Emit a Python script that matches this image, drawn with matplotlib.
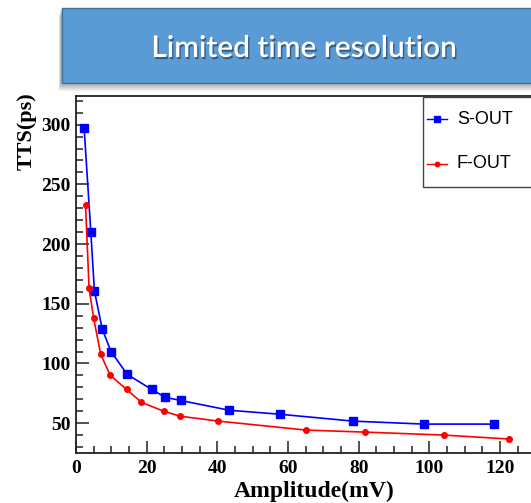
import matplotlib
matplotlib.use("Agg")
import matplotlib.pyplot as plt
from matplotlib.patches import Rectangle
from matplotlib.lines import Line2D
from matplotlib.ticker import MultipleLocator
import matplotlib.patheffects as pe

# ---- data ----
s_out_x = [2.3, 4.2, 5.2, 7.4, 9.9, 14.5, 21.4, 25.2, 29.6, 43.4, 57.6, 78.4, 98.5, 118.4]
s_out_y = [297, 210, 161, 129, 110, 90.8, 78.3, 71.7, 69, 60.8, 57.5, 51.7, 49.2, 49.2]
f_out_x = [2.7, 3.7, 5.0, 7.0, 9.7, 14.3, 18.5, 24.8, 29.5, 40.3, 65.1, 81.7, 104.2, 122.6]
f_out_y = [232.5, 163, 138, 107.5, 90, 78.3, 67.5, 60, 55.8, 51.7, 44.2, 42.5, 40, 36.7]
x_ticks = [0, 20, 40, 60, 80, 100, 120]
y_ticks = [50, 100, 150, 200, 250, 300]
title = "Limited time resolution"
series_names = ["S-OUT", "F-OUT"]

W, H = 531, 503
fig = plt.figure(figsize=(W / 100, H / 100), dpi=100)

def fx(px):
    return px / W

def fy(py):
    return 1 - py / H

# ---- banner ----
for i in range(9):
    fig.patches.append(Rectangle((fx(61 - i * 0.3), fy(83 + i)), fx(600), fy(8) - fy(83),
                                 transform=fig.transFigure, facecolor="#505050",
                                 alpha=0.07, edgecolor="none", zorder=1))
fig.patches.append(Rectangle((fx(62), fy(83)), fx(600), fy(8) - fy(83),
                             transform=fig.transFigure, facecolor="#5B9BD5",
                             edgecolor="#41719C", linewidth=1.0, zorder=2))
fig.text(fx(304), fy(48), title, color="white", fontsize=21.5, family="Lato",
         weight="semibold", ha="center", va="center", zorder=3,
         path_effects=[pe.withSimplePatchShadow(offset=(1, -1.5), shadow_rgbFace="#1a3550", alpha=0.6)])

# ---- axes ----
ax_left, ax_bottom, ax_top = 76, 453, 96
xmax = 130.0
px_per_unit = (500 - 76) / 120.0
ax_right = ax_left + xmax * px_per_unit
ax = fig.add_axes([fx(ax_left), fy(ax_bottom), fx(ax_right - ax_left), fy(ax_top) - fy(ax_bottom)])
ax.set_xlim(0, xmax)
ax.set_ylim(25, 324)

ax.plot(s_out_x, s_out_y, color="#0000FF", lw=1.2, marker="s", ms=5.5, mec="#0000FF", mfc="#0000FF",
        clip_on=False, zorder=3)
ax.plot(f_out_x, f_out_y, color="#FF0000", lw=1.2, marker="o", ms=4.0, mec="#FF0000", mfc="#FF0000",
        clip_on=False, zorder=3)

ax.set_xticks(x_ticks)
ax.set_yticks(y_ticks)
ax.xaxis.set_minor_locator(MultipleLocator(5))
ax.yaxis.set_minor_locator(MultipleLocator(10))
ax.tick_params(which="both", direction="in", top=False, right=False, width=1.2, color="#333333")
ax.tick_params(which="major", length=9)
ax.tick_params(which="minor", length=5)
ax.tick_params(axis="y", pad=4)
ax.tick_params(axis="x", pad=5)
for lab in ax.get_xticklabels() + ax.get_yticklabels():
    lab.set_family("Liberation Serif")
    lab.set_weight("bold")
    lab.set_fontsize(14)
for sp in ax.spines.values():
    sp.set_linewidth(1.3)
    sp.set_color("#222222")

fig.text(fx(27), fy(131), "TTS(ps)", rotation=90, family="Liberation Serif", weight="bold",
         fontsize=16, ha="center", va="center")
fig.text(fx(314), fy(491), "Amplitude(mV)", family="Liberation Serif", weight="bold",
         fontsize=17, ha="center", va="center")

# ---- legend ----
fig.patches.append(Rectangle((fx(423), fy(187)), fx(200), fy(97) - fy(187),
                             transform=fig.transFigure, facecolor="white",
                             edgecolor="#444444", linewidth=1.0, zorder=5))
leg_specs = [(series_names[0], "#0000FF", "s", 4.0, 119),
             (series_names[1], "#FF0000", "o", 3.2, 164)]
for name, col, mk, ms, ypx in leg_specs:
    fig.lines.append(Line2D([fx(427), fx(447)], [fy(ypx), fy(ypx)], transform=fig.transFigure,
                            color=col, lw=1.0, zorder=6))
    fig.lines.append(Line2D([fx(437)], [fy(ypx)], transform=fig.transFigure, color=col,
                            marker=mk, ms=ms, lw=0, zorder=6))
    fig.text(fx(457), fy(ypx), name, family="Liberation Sans", fontsize=13, ha="left",
             va="center", zorder=7)

fig.savefig("out.png", dpi=100)
